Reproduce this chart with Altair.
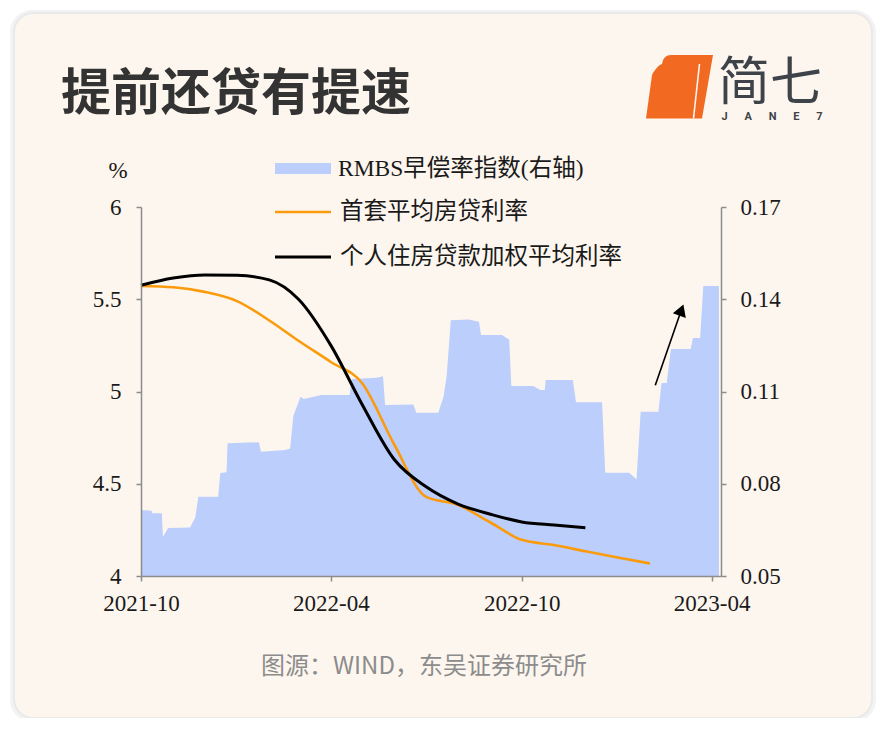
import altair as alt
import pandas as pd
from urllib.parse import quote

# ---------------- data ----------------
rmbs_dates = ["2021-10-01", "2021-10-11", "2021-10-12", "2021-10-21", "2021-10-22", "2021-10-27",
              "2021-11-17", "2021-11-22", "2021-11-25", "2021-12-14", "2021-12-16", "2021-12-22",
              "2021-12-23", "2022-01-22", "2022-01-24", "2022-02-16", "2022-02-21", "2022-02-24",
              "2022-03-03", "2022-03-06", "2022-03-23", "2022-04-19", "2022-04-21", "2022-05-15",
              "2022-05-21", "2022-05-23", "2022-06-19", "2022-06-22", "2022-07-13", "2022-07-18",
              "2022-07-21", "2022-07-25", "2022-08-11", "2022-08-21", "2022-08-23", "2022-09-12",
              "2022-09-19", "2022-09-21", "2022-10-12", "2022-10-19", "2022-10-23", "2022-10-24",
              "2022-11-19", "2022-11-22", "2022-12-17", "2022-12-20", "2023-01-12", "2023-01-19",
              "2023-01-23", "2023-02-09", "2023-02-12", "2023-02-17", "2023-02-21", "2023-03-12",
              "2023-03-14", "2023-03-21", "2023-03-24", "2023-04-08"]
rmbs_values = [0.0715, 0.0712, 0.0704, 0.0704, 0.0627, 0.0656,
               0.0658, 0.0690, 0.0758, 0.0758, 0.0835, 0.0837,
               0.0932, 0.0935, 0.0904, 0.0910, 0.0915, 0.1020,
               0.1083, 0.1076, 0.1089, 0.1089, 0.1141, 0.1145,
               0.1150, 0.1056, 0.1058, 0.1031, 0.1031, 0.1083,
               0.1150, 0.1332, 0.1334, 0.1327, 0.1284, 0.1284,
               0.1268, 0.1118, 0.1118, 0.1105, 0.1105, 0.1137,
               0.1137, 0.1065, 0.1065, 0.0836, 0.0836, 0.0815,
               0.1034, 0.1034, 0.1128, 0.1128, 0.1238, 0.1238,
               0.1274, 0.1274, 0.1443, 0.1443]

first_home_dates = ["2021-10-01", "2021-11-01", "2021-12-01", "2022-01-01", "2022-02-01", "2022-03-01",
                    "2022-04-01", "2022-05-01", "2022-06-01", "2022-07-01", "2022-08-01", "2022-09-01",
                    "2022-10-01", "2022-11-01", "2022-12-01", "2023-01-01", "2023-02-01"]
first_home_rate = [5.572, 5.565, 5.54, 5.49, 5.385, 5.275, 5.16, 5.045, 4.71, 4.43, 4.385, 4.29,
                   4.196, 4.168, 4.134, 4.10, 4.068]

weighted_dates = first_home_dates[:15]
weighted_rate = [5.576, 5.615, 5.632, 5.630, 5.605, 5.50, 5.25, 4.93, 4.63, 4.485, 4.39, 4.335,
                 4.293, 4.276, 4.262]

x_tick_dates = [(2021, 10), (2022, 4), (2022, 10), (2023, 4)]
left_ticks = [4, 4.5, 5, 5.5, 6]
right_ticks = [0.05, 0.08, 0.11, 0.14, 0.17]

arrow_start = ("2023-02-06", 0.112)
arrow_end = ("2023-03-03", 0.1365)

title_text = "提前还贷有提速"
legend_labels = ["RMBS早偿率指数(右轴)", "首套平均房贷利率", "个人住房贷款加权平均利率"]
source_text = "图源：WIND，东吴证券研究所"

# ---------------- styles ----------------
CARD = "#fdf6ee"
BLUE = "#bccefb"
ORANGE = "#fb9b0b"
AXIS_GRAY = "#8c8c8c"
SERIF = "Liberation Serif"
MIX = "Liberation Serif, Noto Sans CJK SC"
SANS = "Noto Sans CJK SC"


def t(s):
    return s + "T00:00:00"


rmbs_df = pd.DataFrame({"date": [t(d) for d in rmbs_dates], "v": rmbs_values})
orange_df = pd.DataFrame({"date": [t(d) for d in first_home_dates], "v": first_home_rate})
black_df = pd.DataFrame({"date": [t(d) for d in weighted_dates], "v": weighted_rate})
arrow_df = pd.DataFrame({"x0": [t(arrow_start[0])], "y0": [arrow_start[1]],
                         "x1": [t(arrow_end[0])], "y1": [arrow_end[1]]})
one = pd.DataFrame({"a": [0]})

x_scale = alt.Scale(domain=[alt.DateTime(year=2021, month=10, date=1),
                            alt.DateTime(year=2023, month=4, date=10)])
axis_common = dict(title=None, labelFont=SERIF, labelFontSize=23, labelColor="#1a1a1a",
                   tickSize=5, tickColor=AXIS_GRAY, tickWidth=1.5, domainColor=AXIS_GRAY,
                   domainWidth=1.5, grid=False, zindex=1)
x_axis = alt.Axis(values=[alt.DateTime(year=y, month=m, date=1) for y, m in x_tick_dates],
                  format="%Y-%m", labelPadding=11, labelFlush=False, labelOverlap=False,
                  **axis_common)
left_scale = alt.Scale(domain=[4, 6], zero=False, nice=False)
right_scale = alt.Scale(domain=[0.05, 0.17], zero=False, nice=False)
left_axis = alt.Axis(orient="left", values=left_ticks, format="~g", labelPadding=15, **axis_common)
right_axis = alt.Axis(orient="right", values=right_ticks, format=".2f", labelPadding=14, **axis_common)


def rect(x, x2, y, y2, color, r=0, opacity=1.0):
    return alt.Chart(one).mark_rect(color=color, cornerRadius=r, opacity=opacity).encode(
        x=alt.value(x), x2=alt.value(x2), y=alt.value(y), y2=alt.value(y2))


def text(s, x, y, size, font, color="#1a1a1a", align="left", weight="normal"):
    return alt.Chart(one).mark_text(text=s, align=align, baseline="middle", fontSize=size,
                                    font=font, color=color, fontWeight=weight).encode(
        x=alt.value(x), y=alt.value(y))


# card with soft shadow
shadow1 = rect(-131, 735, -197, 515, "#f3f3f3", r=22)
shadow2 = rect(-128, 732, -195, 512, "#e9e9e9", r=20)
card = rect(-126, 730, -193, 510, CARD, r=18)

area = alt.Chart(rmbs_df).mark_area(color=BLUE, interpolate="linear").encode(
    x=alt.X("date:T", scale=x_scale, axis=x_axis),
    y=alt.Y("v:Q", scale=right_scale, axis=right_axis),
    y2=alt.datum(0.05),
)
arrow_line = alt.Chart(arrow_df).mark_rule(color="black", strokeWidth=1.6).encode(
    x=alt.X("x0:T", scale=x_scale, axis=x_axis), x2="x1:T",
    y=alt.Y("y0:Q", scale=right_scale, axis=right_axis), y2="y1:Q",
)
arrow_head = alt.Chart(arrow_df).mark_point(shape="triangle-up", filled=True, size=190, angle=20,
                                            color="black", opacity=1).encode(
    x=alt.X("x1:T", scale=x_scale, axis=x_axis),
    y=alt.Y("y1:Q", scale=right_scale, axis=right_axis),
)

group_right = alt.layer(shadow1, shadow2, card, area, arrow_line, arrow_head)

orange_line = alt.Chart(orange_df).mark_line(color=ORANGE, strokeWidth=2.6, interpolate="monotone").encode(
    x=alt.X("date:T", scale=x_scale, axis=x_axis),
    y=alt.Y("v:Q", scale=left_scale, axis=left_axis),
)
black_line = alt.Chart(black_df).mark_line(color="black", strokeWidth=3, interpolate="monotone").encode(
    x=alt.X("date:T", scale=x_scale, axis=x_axis),
    y=alt.Y("v:Q", scale=left_scale, axis=left_axis),
)

# legend
leg_rect = rect(134, 190, -44, -33, BLUE)
leg_orange = alt.Chart(one).mark_rule(color=ORANGE, strokeWidth=2.6).encode(
    x=alt.value(134), x2=alt.value(190), y=alt.value(5))
leg_black = alt.Chart(one).mark_rule(color="black", strokeWidth=3).encode(
    x=alt.value(134), x2=alt.value(190), y=alt.value(50))
leg_t1 = text(legend_labels[0], 197, -38, 23.5, MIX)
leg_t2 = text(legend_labels[1], 199, 5, 23.5, MIX)
leg_t3 = text(legend_labels[2], 199, 50, 23.5, MIX)

pct = text("%", -23, -36, 23, SERIF, align="center")
title = text(title_text, -80, -112, 50, SANS, color="#333333", weight="bold")
source = text(source_text, 283, 460, 24, SANS, color="#8c8c8c", align="center")

# logo
svg = ('<svg xmlns="http://www.w3.org/2000/svg" width="72" height="67" viewBox="0 0 72 67">'
       '<path d="M9 22 C12 16 16 12 19 11 C20 5 23 2 28 2 L70 2 L59 65.5 L3 65.5 Z" fill="#f26a22"/>'
       '<path d="M56.5 11 L50.5 65.5" stroke="#fdf6ee" stroke-width="1.6"/>'
       '</svg>')
logo_img = alt.Chart(one).mark_image(align="left", baseline="top", width=72, height=67).encode(
    x=alt.value(502), y=alt.value(-154),
    url=alt.value("data:image/svg+xml;charset=utf-8," + quote(svg)))
logo_cn = text("简七", 577, -123, 52, SANS, color="#3d4349")
gap = "\u2003\u2002"
logo_en = text(gap.join("JANE7"), 631, -90, 11, "Roboto", color="#3d4349", align="center",
               weight="bold")

group_left = alt.layer(orange_line, black_line, leg_rect, leg_orange, leg_black,
                       leg_t1, leg_t2, leg_t3, pct, title, source, logo_img, logo_cn, logo_en)

chart = alt.layer(group_right, group_left).resolve_scale(y="independent").properties(
    width=580, height=369,
    padding={"left": 133, "top": 199, "right": 155, "bottom": 142},
    autosize=alt.AutoSizeParams(type="none"),
    background="white",
).configure_view(stroke=None)

chart.save("out.html", embed_options={"renderer": "svg", "actions": False})
